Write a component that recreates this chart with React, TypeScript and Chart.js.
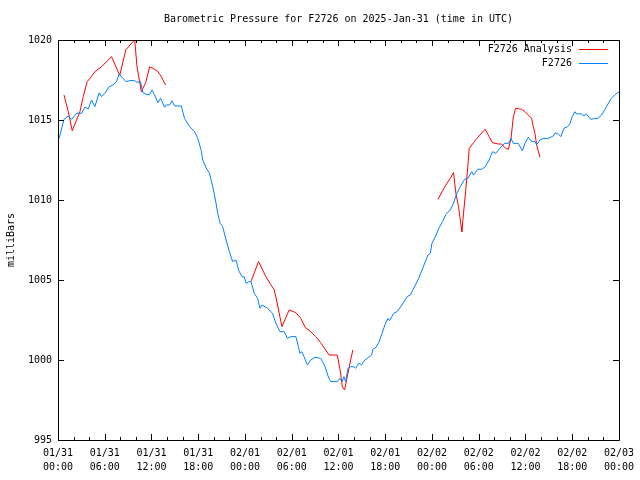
import React, { useEffect, useRef } from "react";
import { Chart, registerables } from "chart.js";

Chart.register(...registerables);

const TITLE = "Barometric Pressure for F2726 on 2025-Jan-31 (time in UTC)";
const Y_LABEL = "milliBars";
const SERIES_NAMES = ["F2726 Analysis", "F2726"];
const SERIES_COLORS = ["#ff0000", "#0080ff"];
const FONT = '"DejaVu Sans Mono", "Liberation Mono", monospace';

const xTickDates = ["01/31", "01/31", "01/31", "01/31", "02/01", "02/01", "02/01", "02/01", "02/02", "02/02", "02/02", "02/02", "02/03"];
const xTickTimes = ["00:00", "06:00", "12:00", "18:00", "00:00", "06:00", "12:00", "18:00", "00:00", "06:00", "12:00", "18:00", "00:00"];
const yTickLabels = ["995", "1000", "1005", "1010", "1015", "1020"];

// Observations (hours since 2025-01-31 00:00 UTC)
const obsHours = [
  0.15, 0.77, 1.32, 1.75, 2.39, 3.03, 3.45, 3.88, 4.31, 4.73, 5.28, 5.59, 6.01, 6.56, 7.07, 7.51, 7.84, 8.35, 8.7, 9.21,
  9.85, 10.14, 10.58, 10.91, 11.34, 11.77, 12.06, 12.4, 12.83, 13.17, 13.68, 13.9, 14.32, 14.62, 14.96, 15.82, 16.24, 16.88, 17.52, 17.94,
  18.38, 18.58, 19.02, 19.44, 19.86, 20.21, 20.5, 20.81, 21.14, 21.57, 22.0, 22.42, 22.85, 23.19, 23.62, 23.91, 24.13, 24.55, 24.77, 25.19,
  25.62, 25.92, 26.18, 26.89, 27.53, 27.97, 28.48, 29.03, 29.45, 29.89, 30.53, 30.86, 31.04, 31.29, 31.59, 32.01, 32.44, 32.99, 33.72, 34.27,
  34.7, 35.0, 35.85, 36.15, 36.49, 36.7, 36.92, 37.22, 37.56, 37.98, 38.2, 38.62, 38.97, 39.39, 39.9, 40.25, 40.41, 40.83, 41.18, 41.6,
  42.04, 42.37, 42.55, 43.1, 43.52, 44.16, 44.8, 45.23, 45.87, 46.29, 46.72, 47.15, 47.48, 47.79, 48.0, 48.43, 48.85, 49.36, 49.79, 50.35,
  50.77, 51.19, 51.63, 52.18, 52.6, 53.11, 53.33, 53.88, 54.39, 54.83, 55.34, 55.76, 56.18, 56.74, 57.29, 57.81, 58.15, 58.44, 59.08, 59.6,
  59.94, 60.37, 60.79, 61.22, 61.43, 61.86, 62.28, 62.92, 63.56, 63.85, 64.2, 64.54, 64.93, 65.39, 65.7, 65.99, 66.33, 66.54, 67.18, 67.52,
  67.82, 68.38, 68.89, 69.31, 69.74, 70.17, 70.59, 71.02, 71.45, 71.79, 72.0,
];
const obsValues = [
  1013.86, 1015.04, 1015.25, 1015.04, 1015.42, 1015.42, 1015.8, 1015.69, 1016.25, 1015.83, 1016.7, 1016.46, 1016.67, 1017.08, 1017.19, 1017.4, 1017.88, 1017.6, 1017.4, 1017.46,
  1017.46, 1017.35, 1017.4, 1016.7, 1016.6, 1016.6, 1016.88, 1016.56, 1016.08, 1016.35, 1015.8, 1015.94, 1015.94, 1016.2, 1015.88, 1015.88, 1015.1, 1014.6, 1014.27, 1013.86,
  1013.1, 1012.5, 1012.0, 1011.67, 1010.83, 1010.0, 1009.17, 1008.54, 1008.33, 1007.5, 1006.77, 1006.15, 1006.25, 1005.6, 1005.2, 1005.2, 1004.8, 1004.9, 1004.9, 1004.17,
  1003.85, 1003.23, 1003.44, 1003.23, 1002.92, 1002.3, 1001.77, 1001.77, 1001.35, 1001.46, 1001.46, 1000.83, 1000.42, 1000.52, 1000.2, 999.69, 1000.0, 1000.17, 1000.1, 999.6,
  998.94, 998.65, 998.65, 998.85, 998.65, 998.96, 998.65, 999.48, 999.58, 999.58, 999.48, 999.8, 999.7, 1000.0, 1000.17, 1000.3, 1000.67, 1000.8, 1001.1, 1001.67,
  1002.3, 1002.6, 1002.46, 1002.92, 1003.02, 1003.44, 1003.96, 1004.06, 1004.69, 1005.1, 1005.63, 1006.15, 1006.56, 1006.67, 1007.3, 1007.7, 1008.2, 1008.65, 1009.1, 1009.38,
  1009.8, 1010.42, 1010.83, 1011.29, 1011.35, 1011.77, 1011.56, 1011.92, 1011.92, 1012.08, 1012.5, 1013.02, 1012.92, 1013.23, 1013.54, 1013.54, 1013.85, 1013.54, 1013.54, 1013.08,
  1013.54, 1013.92, 1013.65, 1013.65, 1013.44, 1013.75, 1013.85, 1013.85, 1014.0, 1014.2, 1014.13, 1013.96, 1014.48, 1014.58, 1014.75, 1015.2, 1015.52, 1015.38, 1015.38, 1015.25,
  1015.38, 1015.04, 1015.1, 1015.1, 1015.3, 1015.63, 1016.0, 1016.35, 1016.56, 1016.7, 1016.75,
];

// Analysis, three separate runs
const anaHours1 = [0.77, 1.32, 1.83, 2.81, 3.24, 3.75, 4.09, 4.73, 5.59, 6.87, 7.71, 7.93, 8.7, 9.63, 9.85, 10.14, 10.7, 11.25, 11.77, 12.4, 12.83, 13.26, 13.81];
const anaValues1 = [1016.56, 1015.52, 1014.33, 1015.52, 1016.46, 1017.4, 1017.6, 1018.02, 1018.33, 1018.96, 1018.02, 1017.8, 1019.38, 1019.9, 1020.0, 1018.33, 1016.77, 1017.33, 1018.33, 1018.17, 1018.02, 1017.71, 1017.19];
const anaHours2 = [24.77, 25.74, 26.69, 27.33, 27.75, 28.05, 28.74, 29.67, 30.53, 31.17, 31.72, 32.44, 33.08, 33.72, 34.79, 35.85, 36.28, 36.49, 36.79, 37.13, 37.56, 37.85];
const anaValues2 = [1004.9, 1006.15, 1005.2, 1004.7, 1004.38, 1003.75, 1002.08, 1003.13, 1002.96, 1002.6, 1002.04, 1001.77, 1001.46, 1001.08, 1000.31, 1000.31, 999.17, 998.33, 998.13, 998.96, 1000.0, 1000.63];
const anaHours3 = [48.76, 49.71, 50.35, 50.77, 51.07, 51.41, 51.76, 51.83, 52.05, 52.34, 52.6, 52.78, 53.33, 53.75, 54.83, 55.34, 55.76, 56.53, 56.95, 57.46, 57.81, 58.15, 58.44, 58.74, 59.51, 59.94, 60.79, 61.01, 61.22, 61.43, 61.86];
const anaValues3 = [1010.04, 1010.88, 1011.35, 1011.71, 1010.42, 1009.58, 1008.33, 1008.02, 1009.17, 1010.63, 1012.08, 1013.23, 1013.58, 1013.85, 1014.42, 1013.96, 1013.58, 1013.5, 1013.5, 1013.23, 1013.17, 1013.85, 1015.2, 1015.73, 1015.67, 1015.52, 1015.1, 1014.58, 1014.17, 1013.44, 1012.67];

const toPoints = (xs: number[], ys: number[]) => xs.map((x, i) => ({ x, y: ys[i] as number | null }));

const framePlugin = {
  id: "frame",
  afterDatasetsDraw(chart: any) {
    const { ctx, chartArea } = chart;
    const { left, right, top, bottom } = chartArea;
    const xs = chart.scales.x;
    const ys = chart.scales.y;
    ctx.save();
    ctx.strokeStyle = "#000";
    ctx.lineWidth = 1;
    ctx.beginPath();
    ctx.rect(Math.round(left) + 0.5, Math.round(top) + 0.5, Math.round(right - left), Math.round(bottom - top));
    ctx.stroke();
    ctx.beginPath();
    for (let h = 0; h <= 72; h += 2) {
      const px = Math.round(xs.getPixelForValue(h)) + 0.5;
      const len = h % 6 === 0 ? 6 : 3;
      ctx.moveTo(px, bottom);
      ctx.lineTo(px, bottom - len);
      ctx.moveTo(px, top);
      ctx.lineTo(px, top + len);
    }
    for (let v = 995; v <= 1020; v += 5) {
      const py = Math.round(ys.getPixelForValue(v)) + 0.5;
      ctx.moveTo(left, py);
      ctx.lineTo(left + 6, py);
      ctx.moveTo(right, py);
      ctx.lineTo(right - 6, py);
    }
    ctx.stroke();
    ctx.restore();
  },
  afterDraw(chart: any) {
    const { ctx, chartArea } = chart;
    ctx.save();
    ctx.font = `10px ${FONT}`;
    ctx.fillStyle = "#000";
    ctx.textBaseline = "middle";
    ctx.textAlign = "center";
    ctx.fillText(TITLE, (chartArea.left + chartArea.right) / 2, 19);
    ctx.textAlign = "right";
    const rows = [49.5, 63.5];
    SERIES_NAMES.forEach((name, i) => {
      ctx.fillStyle = "#000";
      ctx.fillText(name, chartArea.right - 47, rows[i]);
      ctx.strokeStyle = SERIES_COLORS[i];
      ctx.lineWidth = 1;
      ctx.beginPath();
      ctx.moveTo(chartArea.right - 40, rows[i]);
      ctx.lineTo(chartArea.right - 11, rows[i]);
      ctx.stroke();
    });
    ctx.restore();
  },
};

export default function App() {
  const ref = useRef<HTMLCanvasElement | null>(null);
  useEffect(() => {
    if (!ref.current) return;
    const gap = [{ x: 20, y: null }];
    const gap2 = [{ x: 45, y: null }];
    const chart = new Chart(ref.current, {
      type: "line",
      data: {
        datasets: [
          {
            label: SERIES_NAMES[1],
            data: toPoints(obsHours, obsValues),
            borderColor: SERIES_COLORS[1],
            borderWidth: 1,
            pointRadius: 0,
            tension: 0,
            fill: false,
          },
          {
            label: SERIES_NAMES[0],
            data: [
              ...toPoints(anaHours1, anaValues1),
              ...gap,
              ...toPoints(anaHours2, anaValues2),
              ...gap2,
              ...toPoints(anaHours3, anaValues3),
            ],
            borderColor: SERIES_COLORS[0],
            borderWidth: 1,
            pointRadius: 0,
            tension: 0,
            fill: false,
            spanGaps: false,
          },
        ],
      } as any,
      options: {
        animation: false,
        responsive: false,
        events: [],
        layout: { padding: { left: 0, right: 19, top: 40, bottom: 0 } },
        plugins: { legend: { display: false }, title: { display: false }, tooltip: { enabled: false } },
        scales: {
          x: {
            type: "linear",
            min: 0,
            max: 72,
            grid: { display: false, drawTicks: false },
            border: { display: false },
            ticks: {
              stepSize: 6,
              autoSkip: false,
              maxRotation: 0,
              padding: 6,
              color: "#000",
              font: { family: FONT, size: 10, lineHeight: 1.4 },
              callback: (v: any) => {
                const i = Math.round(Number(v) / 6);
                return [xTickDates[i], xTickTimes[i]];
              },
            },
            afterFit: (s: any) => {
              s.height = 40;
            },
          },
          y: {
            type: "linear",
            min: 995,
            max: 1020,
            grid: { display: false, drawTicks: false },
            border: { display: false },
            ticks: {
              stepSize: 5,
              padding: 6,
              color: "#000",
              font: { family: FONT, size: 10 },
              callback: (v: any) => yTickLabels[Math.round((Number(v) - 995) / 5)],
            },
            title: {
              display: true,
              text: Y_LABEL,
              color: "#000",
              font: { family: FONT, size: 10 },
              padding: { top: 5, bottom: 0 },
            },
            afterFit: (s: any) => {
              s.width = 58;
            },
          },
        },
      },
      plugins: [framePlugin],
    });
    return () => chart.destroy();
  }, []);
  return (
    <div style={{ position: "fixed", left: 0, top: 0, width: 640, height: 480, background: "#fff" }}>
      <canvas ref={ref} width={640} height={480} />
    </div>
  );
}
